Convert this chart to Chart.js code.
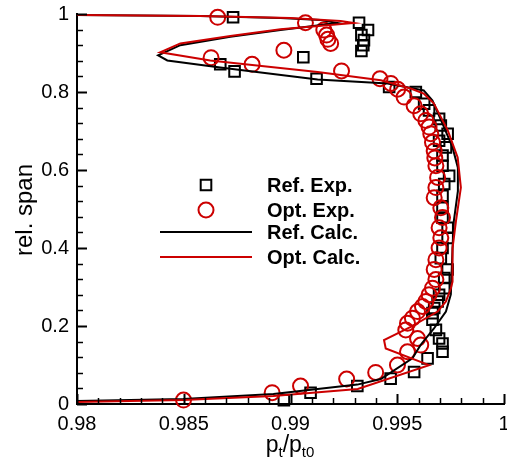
<!DOCTYPE html>
<html><head><meta charset="utf-8">
<script src="https://cdn.jsdelivr.net/npm/chart.js@4/dist/chart.umd.min.js"></script>
<style>html,body{margin:0;padding:0;background:#fff}#wrap{width:507px;height:459px}</style>
</head><body><div id="wrap"><canvas id="c" width="507" height="459"></canvas></div>
<script>
const xTicks = [0.98, 0.985, 0.99, 0.995, 1];
const xTickLabels = ["0.98", "0.985", "0.99", "0.995", "1"];
const yTicks = [0, 0.2, 0.4, 0.6, 0.8, 1];
const yTickLabels = ["0", "0.2", "0.4", "0.6", "0.8", "1"];
const seriesNames = ["Ref. Exp.", "Opt. Exp.", "Ref. Calc.", "Opt. Calc."];

const refExpX = [0.98731,0.99321,0.99363,0.99332,0.99344,0.99341,0.99332,0.99060,0.98671,0.98738,0.99122,0.99462,0.99587,0.99626,0.99649,0.99696,0.99704,0.99736,0.99696,0.99728,0.99712,0.99712,0.99743,0.99720,0.99712,0.99712,0.99712,0.99736,0.99736,0.99712,0.99704,0.99736,0.99720,0.99720,0.99696,0.99689,0.99673,0.99665,0.99665,0.99681,0.99696,0.99712,0.99712,0.99642,0.99579,0.99469,0.99313,0.99094,0.98969];
const refExpY = [0.9915,0.9776,0.9588,0.9459,0.933,0.920,0.905,0.889,0.871,0.853,0.834,0.813,0.800,0.770,0.753,0.731,0.714,0.693,0.675,0.658,0.637,0.611,0.585,0.564,0.534,0.503,0.478,0.452,0.426,0.400,0.374,0.345,0.323,0.297,0.280,0.263,0.246,0.233,0.216,0.190,0.168,0.155,0.134,0.117,0.082,0.065,0.046,0.029,0.010];

const optExpX = [0.98659,0.99070,0.99156,0.99169,0.99175,0.99188,0.98969,0.98628,0.98820,0.99239,0.99419,0.99470,0.99502,0.99532,0.99579,0.99610,0.99634,0.99649,0.99657,0.99665,0.99673,0.99676,0.99681,0.99689,0.99681,0.99673,0.99704,0.99712,0.99696,0.99704,0.99696,0.99681,0.99673,0.99681,0.99665,0.99649,0.99634,0.99618,0.99595,0.99571,0.99548,0.99540,0.99595,0.99610,0.99548,0.99501,0.99399,0.99263,0.99047,0.98914,0.98499];
const optExpY = [0.9915,0.9776,0.9588,0.9459,0.935,0.9245,0.907,0.888,0.871,0.854,0.834,0.822,0.807,0.787,0.765,0.744,0.727,0.710,0.693,0.671,0.649,0.631,0.611,0.581,0.555,0.529,0.503,0.478,0.452,0.426,0.400,0.370,0.345,0.319,0.297,0.280,0.263,0.250,0.237,0.220,0.207,0.190,0.168,0.151,0.134,0.100,0.081,0.064,0.046,0.029,0.010];

const refCalcX = [0.98,0.98577,0.98953,0.99141,0.99221,0.98953,0.98718,0.98484,0.98380,0.98423,0.98671,0.99127,0.99455,0.99624,0.99665,0.99712,0.99759,0.99784,0.99784,0.99765,0.99759,0.99751,0.99728,0.99671,0.99610,0.99571,0.99423,0.99313,0.9892,0.98498,0.98];
const refCalcY = [0.9974,0.9948,0.9897,0.9845,0.9768,0.9588,0.9415,0.920,0.894,0.881,0.863,0.832,0.822,0.804,0.778,0.719,0.658,0.606,0.546,0.469,0.400,0.281,0.237,0.193,0.152,0.117,0.064,0.0497,0.0258,0.0129,0.0077];

const optCalcX = [0.98,0.98577,0.99,0.99235,0.99296,0.98953,0.98718,0.98484,0.98390,0.98624,0.99127,0.99423,0.99563,0.99624,0.99671,0.99737,0.99783,0.99798,0.99775,0.99759,0.99759,0.99751,0.99728,0.99689,0.99563,0.99438,0.99446,0.99649,0.99315,0.9892,0.98498,0.98];
const optCalcY = [0.9974,0.9948,0.9897,0.982,0.9768,0.9606,0.9433,0.9245,0.902,0.881,0.851,0.830,0.809,0.796,0.771,0.701,0.632,0.555,0.469,0.400,0.314,0.296,0.263,0.237,0.198,0.164,0.1425,0.0997,0.0387,0.0206,0.0103,0.0052];

const RED = '#cc0000', BLACK = '#000000';
const FONT = '"Liberation Sans", Arial, sans-serif';
const PLOT_RIGHT = 504;
const pts = (xs, ys) => xs.map((x, i) => ({x: x, y: ys[i]}));

const extras = {
  id: 'extras',
  afterLayout(chart) {
    const s = chart.scales.x, ca = chart.chartArea;
    s.right = PLOT_RIGHT; s.width = s.right - s.left; s.configure();
    ca.right = PLOT_RIGHT; ca.width = ca.right - ca.left;
  },
  afterDraw(chart) {
    const ctx = chart.ctx, xs = chart.scales.x, ys = chart.scales.y, ca = chart.chartArea;
    ctx.save();
    ctx.strokeStyle = '#000';
    const xMinor = 0.001, yMinor = 0.04;
    for (let k = 0; k <= 20; k++) {
      const v = 0.98 + k * xMinor;
      const px = Math.round(xs.getPixelForValue(v)) + 0.5;
      const major = k % 5 === 0;
      ctx.lineWidth = major ? 2 : 1.5;
      ctx.beginPath(); ctx.moveTo(px, ca.bottom); ctx.lineTo(px, ca.bottom - (major ? 10 : 6)); ctx.stroke();
    }
    for (let k = 0; k <= 25; k++) {
      const v = k * yMinor;
      const py = Math.round(ys.getPixelForValue(v)) + 0.5;
      const major = k % 5 === 0;
      ctx.lineWidth = major ? 2 : 1.5;
      ctx.beginPath(); ctx.moveTo(ca.left, py); ctx.lineTo(ca.left + (major ? 10 : 6), py); ctx.stroke();
    }
    ctx.fillStyle = '#000';
    ctx.save();
    ctx.translate(25, 210);
    ctx.rotate(-Math.PI / 2);
    ctx.font = '24px ' + FONT;
    ctx.textAlign = 'center'; ctx.textBaseline = 'middle';
    ctx.fillText('rel. span', 0, 0);
    ctx.restore();
    const parts = [['p', 23, 0], ['t', 15, 5], ['/p', 23, 0], ['t0', 15, 5]];
    let total = 0;
    parts.forEach(p => { ctx.font = p[1] + 'px ' + FONT; total += ctx.measureText(p[0]).width; });
    let x = 290 - total / 2;
    ctx.textAlign = 'left'; ctx.textBaseline = 'alphabetic';
    parts.forEach(p => { ctx.font = p[1] + 'px ' + FONT; ctx.fillText(p[0], x, 452 + p[2]); x += ctx.measureText(p[0]).width; });
    const ds = chart.data.datasets;
    const rows = [185, 210, 232, 257];
    ds.forEach((d, i) => {
      const y = rows[i];
      ctx.strokeStyle = d.borderColor; ctx.lineWidth = d.borderWidth;
      ctx.beginPath();
      if (d.showLine) {
        ctx.moveTo(160, y); ctx.lineTo(252, y);
      } else if (d.pointStyle === 'rect') {
        const s = d.pointRadius * Math.SQRT1_2; ctx.rect(206 - s, y - s, 2 * s, 2 * s);
      } else {
        ctx.arc(206, y, d.pointRadius, 0, Math.PI * 2);
      }
      ctx.stroke();
      ctx.fillStyle = '#000';
      ctx.font = 'bold 20px ' + FONT;
      ctx.textAlign = 'left'; ctx.textBaseline = 'middle';
      ctx.fillText(d.label, 267, y + 1);
    });
    ctx.restore();
  }
};

new Chart(document.getElementById('c'), {
  type: 'scatter',
  data: {
    datasets: [
      {label: seriesNames[0], data: pts(refExpX, refExpY), pointStyle: 'rect', pointRadius: 7.5, pointHoverRadius: 7.5, borderWidth: 2, borderColor: BLACK, backgroundColor: 'rgba(0,0,0,0)', showLine: false, clip: false, order: 4},
      {label: seriesNames[1], data: pts(optExpX, optExpY), pointStyle: 'circle', pointRadius: 7.5, pointHoverRadius: 7.5, borderWidth: 2, borderColor: RED, backgroundColor: 'rgba(0,0,0,0)', showLine: false, clip: false, order: 3},
      {label: seriesNames[2], data: pts(refCalcX, refCalcY), showLine: true, pointRadius: 0, borderWidth: 2, borderColor: BLACK, backgroundColor: BLACK, tension: 0, clip: false, order: 2},
      {label: seriesNames[3], data: pts(optCalcX, optCalcY), showLine: true, pointRadius: 0, borderWidth: 2, borderColor: RED, backgroundColor: RED, tension: 0, clip: false, order: 1}
    ]
  },
  options: {
    responsive: false, animation: false, devicePixelRatio: 1,
    layout: {padding: {top: 14, right: 0, left: 0, bottom: 0}},
    plugins: {legend: {display: false}, tooltip: {enabled: false}},
    events: [],
    scales: {
      x: {
        type: 'linear', min: 0.98, max: 1,
        afterBuildTicks: s => { s.ticks = xTicks.map(v => ({value: v})); },
        ticks: {callback: (v, i) => xTickLabels[i], font: {family: FONT, size: 20}, color: '#000', padding: 8, maxRotation: 0, autoSkip: false},
        grid: {display: false, drawTicks: false},
        border: {display: true, color: '#000', width: 2},
        afterFit: s => { s.height = 55; s.paddingLeft = 0; s.paddingRight = 0; }
      },
      y: {
        type: 'linear', min: 0, max: 1,
        afterBuildTicks: s => { s.ticks = yTicks.map(v => ({value: v})); },
        ticks: {callback: (v, i) => yTickLabels[i], font: {family: FONT, size: 20}, color: '#000', padding: 8, autoSkip: false},
        grid: {display: false, drawTicks: false},
        border: {display: true, color: '#000', width: 2},
        afterFit: s => { s.width = 77; s.paddingTop = 0; s.paddingBottom = 0; }
      }
    }
  },
  plugins: [extras]
});
</script></body></html>
